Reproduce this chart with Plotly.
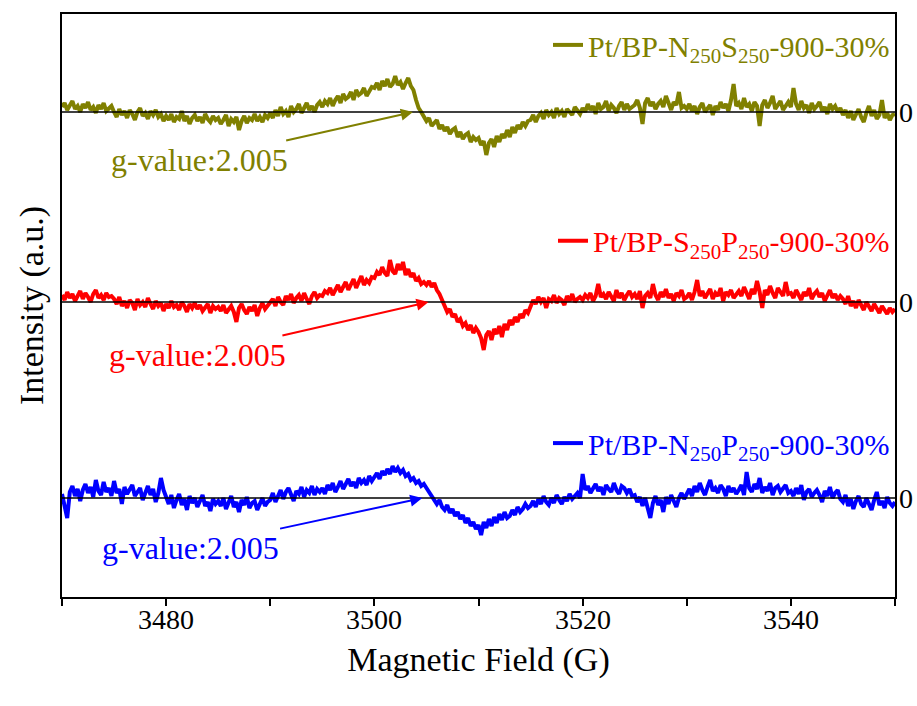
import numpy as np
import plotly.graph_objects as go

# EPR spectra, sampled every 0.25 G from 3470 G to 3550 G.
# Intensities are in arbitrary units relative to each trace's own zero line.
FIELD_MIN, FIELD_MAX = 3470, 3550
x_tick_vals = [3470, 3480, 3490, 3500, 3510, 3520, 3530, 3540, 3550]
x_tick_text = ["", "3480", "", "3500", "", "3520", "", "3540", ""]

ns_intensity = [
    5, 9, 2, 7, 11, 3, 6, 0, 8, 4, 10, 2, 5, -1, 7, 3, 9, 1, 4, 6,
    0, -5, 3, -3, 1, -6, 2, -2, -8, 0, 4, -4, -1, -7, 1, -3, 2, -5, -2, -9,
    -4, -8, -2, -10, -5, -7, 1, -9, -4, -12, -6, -3, -9, -5, -11, -2, -7, -10, -4, -8,
    -6, -12, -8, -3, -14, -7, -10, -5, -18, -9, -4, -11, -6, -8, -2, -9, -5, -10, -3, -6,
    -1, -6, 2, -4, 5, -2, 1, -5, 6, 0, 3, 8, -1, 4, 9, 2, 6, 0, 7, 10,
    5, 11, 8, 14, 6, 12, 16, 9, 18, 13, 15, 20, 12, 22, 17, 19, 24, 16, 21, 25,
    24, 29, 22, 31, 26, 33, 25, 28, 36, 27, 30, 23, 29, 34, 26, 22, 12, 4, 0, -5,
    -9, -6, -14, -11, -8, -17, -13, -19, -15, -22, -18, -16, -25, -20, -27, -23, -21, -30, -25, -28,
    -26, -33, -29, -43, -31, -27, -35, -24, -30, -22, -26, -18, -25, -15, -21, -13, -17, -10, -14, -9,
    -8, -3, -10, -4, -1, -7, 2, -3, 0, -6, 4, -2, 1, -5, 3, 0, -3, 5, 1, -2,
    4, 0, 8, 2, 6, -2, 9, 3, 5, 11, 1, 7, 4, -1, 6, 10, 2, 8, 3, 5,
    7, 12, 4, -12, 9, 14, 6, 10, 3, 8, 11, 5, 16, 9, 2, 10, 7, 20, 4, 6,
    3, 8, 1, 6, -2, 5, 9, 0, 4, 7, -3, 6, 2, 10, 4, 8, 1, 12, 28, 6,
    9, 3, 14, 5, 8, 1, 10, 6, -14, 7, 12, 4, 9, 16, 3, 8, 11, 2, 7, 10,
    5, 24, 8, 2, 11, 4, 7, -1, 9, 3, 6, 10, 1, 5, -2, 8, 3, 6, 0, 4,
    -3, 2, -6, 1, -8, -2, 3, -5, -10, -1, 6, -4, 2, -7, -3, 12, -6, -1, -8, -3,
    -2,
]

sp_intensity = [
    7, 2, 10, 4, 8, 1, 6, 11, 3, 9, 5, 0, 8, 12, 4, 7, 2, 9, 5, 6,
    3, -2, 5, -4, 1, -6, 2, -1, -8, 3, -3, 0, -5, 4, -2, -7, 1, -4, -1, -9,
    -2, -6, 1, -5, -3, -8, 0, -4, -10, -2, -6, -1, -7, -3, -9, -5, -2, -11, -4, -7,
    -5, -9, -3, -11, -7, -4, -10, -20, -6, -2, -8, -12, -5, -9, -3, -14, -6, -1, -7, -4,
    -1, 3, -4, 5, 0, -3, 6, 2, 8, -1, 4, 7, 1, 9, 3, -2, 6, 10, 4, 7,
    6, 11, 9, 14, 7, 13, 17, 10, 15, 20, 12, 18, 23, 14, 21, 26, 17, 22, 19, 25,
    24, 30, 27, 35, 29, 26, 42, 31, 28, 38, 32, 40, 27, 33, 25, 29, 21, 24, 18, 20,
    17, 21, 15, 19, 12, 8, 2, -4, -10, -7, -15, -12, -20, -17, -24, -21, -28, -23, -31, -26,
    -30, -36, -48, -33, -29, -38, -27, -32, -24, -35, -22, -28, -18, -23, -15, -20, -12, -16, -8, -11,
    -4, 2, -2, 5, 0, 4, -6, 3, 1, 7, -1, 4, 2, -3, 6, 1, 8, 0, 3, 5,
    2, 7, 4, 9, 1, 6, 18, 5, 8, 3, 10, 6, 1, 12, 4, 9, 2, 7, 11, 5,
    8, 3, 11, -6, 6, 9, 4, 18, 7, 2, 10, 5, 13, 4, 8, 1, 9, 6, 12, 3,
    5, 9, 2, 10, 22, 6, 11, 4, 8, 13, 3, 9, 6, 14, 1, 10, 7, 12, 4, 8,
    11, 6, 15, 9, 3, 13, 8, 21, 10, -6, 12, 7, 16, 9, 4, 14, 10, 6, 20, 8,
    9, 4, 12, 7, 2, 10, 6, 14, 3, 8, 11, 5, 9, 1, 7, 12, 4, 8, 2, 6,
    3, -2, 6, -4, 1, -6, 2, -3, -8, 0, -5, -9, -2, -7, -11, -4, -8, -12, -6, -10,
    -7,
]

np_intensity = [
    4, -8, -20, 6, 12, 2, 9, -3, 8, 14, 5, 11, 1, 18, 7, 3, 16, 6, 10, 2,
    17, 5, 9, -6, 11, 4, 8, 13, 2, 7, 10, -2, 6, 12, 3, 9, -4, 5, 20, 8,
    1, -6, 3, -10, -2, 4, -7, -1, -12, 2, -5, 0, -9, -3, 3, -8, -4, -13, -1, -6,
    -3, -8, 0, -11, -5, 2, -9, -4, -14, -2, -7, 1, -10, -5, -3, -12, -6, 0, -8, -4,
    -2, 5, -4, 3, 8, -1, 6, 10, 2, -3, 7, 4, 11, 1, 8, 5, 12, 3, 9, 6,
    10, 4, 13, 8, 15, 6, 11, 17, 9, 14, 19, 12, 16, 10, 20, 15, 18, 13, 22, 17,
    21, 25, 19, 27, 23, 29, 24, 32, 26, 30, 25, 28, 22, 24, 18, 20, 15, 17, 12, 14,
    10, 6, 2, -3, -6, -2, -9, -12, -7, -15, -11, -18, -14, -21, -17, -25, -20, -28, -24, -31,
    -27, -37, -24, -30, -21, -28, -19, -25, -16, -22, -14, -20, -18, -12, -17, -9, -14, -11, -6, -10,
    -8, -3, -9, -1, -6, 2, -4, -7, 0, -5, 3, -2, -6, 1, -3, 4, -1, 2, 5, 0,
    24, 8, 12, 5, 10, 14, 7, 11, 3, 13, 9, 6, 15, 8, 4, 12, 10, 5, 9, 2,
    3, -4, 1, -8, 0, -12, -20, -5, 2, -7, -2, -14, 1, -6, 3, -3, -9, 0, 5, -1,
    4, 9, 2, 12, 6, 15, 8, 3, 11, 18, 7, 10, 5, 13, 9, 2, 12, 6, 10, 4,
    8, 13, 3, 26, 10, 6, 14, 9, 20, 5, 11, 7, 15, 3, 10, 12, 6, 9, 13, 5,
    7, 2, 10, 4, 13, -2, 6, 9, 1, 5, 8, 3, -4, 7, 2, 11, 0, 5, 8, -1,
    -4, 3, -8, -1, -11, -3, 2, -6, -9, 0, -5, -12, -2, 6, -7, -3, -10, 1, -5, -8,
    -4,
]

series_names = [
    "Pt/BP-N<sub>250</sub>S<sub>250</sub>-900-30%",
    "Pt/BP-S<sub>250</sub>P<sub>250</sub>-900-30%",
    "Pt/BP-N<sub>250</sub>P<sub>250</sub>-900-30%",
]
series_data = [ns_intensity, sp_intensity, np_intensity]
series_colors = ["#808000", "#FF0000", "#0000FF"]
# vertical stacking offset of each spectrum (its zero line)
series_offsets = [485, 295, 99]
zero_label = "0"
# g-value markers: zero crossing field and label anchor
g_label = "g-value:2.005"
g_cross_field = [3503.7, 3505.2, 3504.6]
g_text_field = [3483.2, 3483.0, 3482.3]
g_text_shift = [-48, -53, -50]

Y_RANGE = [0, 583]
FONT = "Liberation Serif"
TICK_FONT = dict(family=FONT, size=28, color="black")
ZERO_FONT = dict(family=FONT, size=28, color="black")

fig = go.Figure()
legend_ids = ["legend", "legend2", "legend3"]

for name, vals, color, off, leg in zip(series_names, series_data, series_colors,
                                       series_offsets, legend_ids):
    field = np.linspace(FIELD_MIN, FIELD_MAX, len(vals))
    fig.add_trace(go.Scatter(
        x=field, y=np.array(vals) + off, mode="lines", name=name,
        line=dict(color=color, width=4), legend=leg, showlegend=True,
    ))

# zero lines
for off in series_offsets:
    fig.add_trace(go.Scatter(
        x=[FIELD_MIN, FIELD_MAX], y=[off, off], mode="lines",
        line=dict(color="black", width=1.4), showlegend=False, hoverinfo="skip",
    ))

# tick labels written as annotations so they use the serif face
for v, t in zip(x_tick_vals, x_tick_text):
    if t:
        fig.add_annotation(
            x=v, xref="x", y=0, yref="paper", yanchor="top", yshift=-5,
            text=t, showarrow=False, font=TICK_FONT,
        )

# "0" marks of each zero line, right of the frame
for off in series_offsets:
    fig.add_annotation(
        x=1, xref="paper", xanchor="left", xshift=2, y=off, yref="y",
        yanchor="middle", text=zero_label, showarrow=False, font=ZERO_FONT,
    )

for xc, xt, dy, off, color in zip(g_cross_field, g_text_field, g_text_shift,
                                  series_offsets, series_colors):
    fig.add_annotation(
        x=xc, y=off, xref="x", yref="y",
        ax=xt, ay=off + dy, axref="x", ayref="y",
        text=g_label, showarrow=True, arrowhead=2, arrowsize=1.2,
        arrowwidth=2, arrowcolor=color,
        font=dict(family=FONT, size=32, color=color),
    )

legend_y = [0.947, 0.611, 0.264]
legend_common = dict(
    x=1.0, xanchor="right", yanchor="middle", bgcolor="rgba(0,0,0,0)",
    borderwidth=0, itemwidth=30,
)
layout_legends = {}
for leg, ly, color in zip(legend_ids, legend_y, series_colors):
    layout_legends[leg] = dict(y=ly, font=dict(family=FONT, size=30, color=color),
                               **legend_common)

fig.update_layout(
    width=917, height=706,
    margin=dict(l=62, r=22, t=14, b=109),
    plot_bgcolor="white", paper_bgcolor="white",
    font=dict(family=FONT, size=26, color="black"),
    xaxis=dict(
        range=[FIELD_MIN, FIELD_MAX], tickmode="array",
        tickvals=x_tick_vals, showticklabels=False,
        showline=True, linecolor="black", linewidth=2, mirror=True,
        ticks="outside", ticklen=7, tickwidth=1.5, tickcolor="black",
        showgrid=False, zeroline=False,
        title=dict(text="Magnetic Field (G)", font=dict(family=FONT, size=34),
                   standoff=42),
    ),
    yaxis=dict(
        range=Y_RANGE, showline=True, linecolor="black", linewidth=2,
        mirror=True, showticklabels=False, ticks="", showgrid=False,
        zeroline=False,
        title=dict(text="Intensity (a.u.)", font=dict(family=FONT, size=34),
                   standoff=6),
    ),
    **layout_legends,
)

fig.write_html("out.html")
